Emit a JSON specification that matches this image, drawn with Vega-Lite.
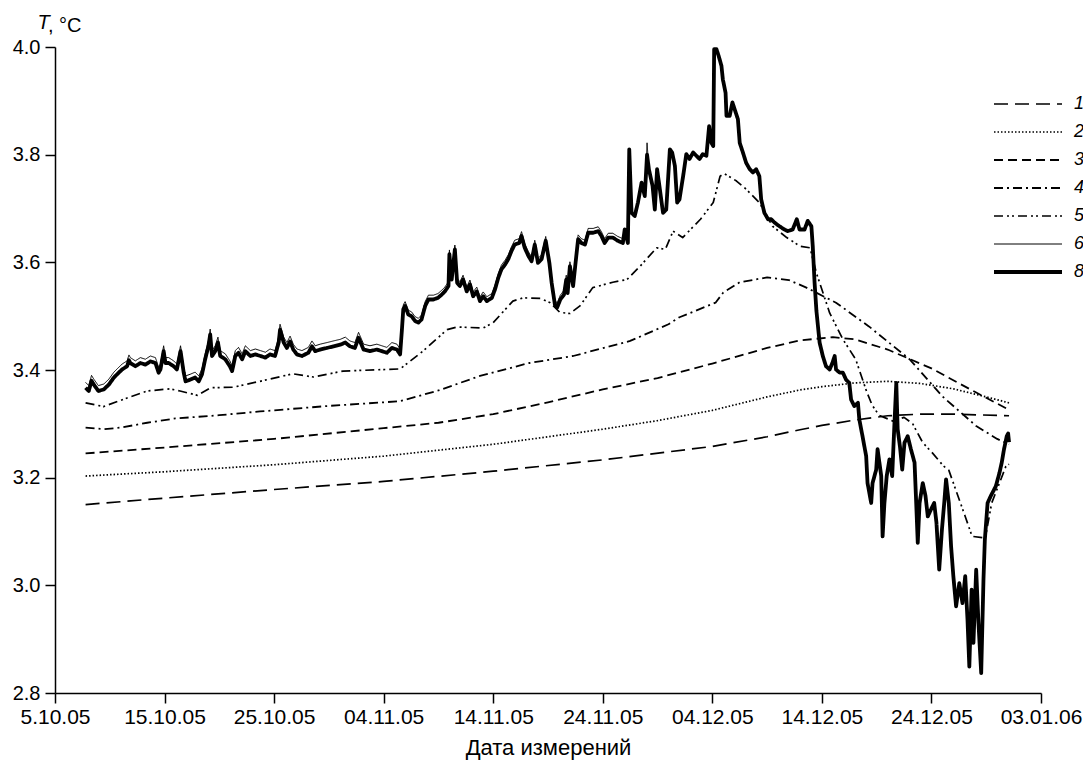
{
"$schema": "https://vega.github.io/schema/vega-lite/v6.json",
"width": 986, "height": 646,
"autosize": {"type": "none"},
"padding": {"left": 55, "top": 47, "right": 42, "bottom": 70},
"background": "white",
"config": {
  "view": {"stroke": null},
  "font": "Liberation Sans",
  "legend": {"orient": "none", "legendX": 937, "legendY": 43, "symbolType": "stroke", "symbolSize": 4624, "labelFontSize": 18, "labelFontStyle": "italic", "labelColor": "black", "labelFont": "Liberation Sans", "clipHeight": 28, "rowPadding": 0, "labelOffset": 10, "symbolStrokeColor": "black", "padding": 0}
},
"title": {"text": ", °C", "anchor": "start", "frame": "group", "fontSize": 20, "fontWeight": "normal", "color": "black", "font": "Liberation Sans", "dx": -7, "dy": 40, "offset": 0, "baseline": "alphabetic"},
"data": {
"format": {"parse": {"t": "utc:'%Y-%m-%d %H:%M'"}},
"values": [
{"t":"2005-10-07 19:00","s":"1","v":3.150},{"t":"2005-10-15 00:00","s":"1","v":3.162},{"t":"2005-10-25 00:00","s":"1","v":3.178},{"t":"2005-11-04 00:00","s":"1","v":3.193},{"t":"2005-11-14 00:00","s":"1","v":3.212},{"t":"2005-11-24 00:00","s":"1","v":3.233},{"t":"2005-12-04 00:00","s":"1","v":3.258},{"t":"2005-12-09 00:00","s":"1","v":3.276},{"t":"2005-12-12 00:00","s":"1","v":3.289},{"t":"2005-12-14 00:00","s":"1","v":3.297},{"t":"2005-12-17 00:00","s":"1","v":3.307},{"t":"2005-12-20 00:00","s":"1","v":3.315},{"t":"2005-12-23 00:00","s":"1","v":3.318},{"t":"2005-12-26 00:00","s":"1","v":3.318},{"t":"2005-12-31 02:00","s":"1","v":3.315},
{"t":"2005-10-07 19:00","s":"2","v":3.203},{"t":"2005-10-15 00:00","s":"2","v":3.211},{"t":"2005-10-25 00:00","s":"2","v":3.224},{"t":"2005-11-04 00:00","s":"2","v":3.240},{"t":"2005-11-14 00:00","s":"2","v":3.262},{"t":"2005-11-24 00:00","s":"2","v":3.290},{"t":"2005-11-29 00:00","s":"2","v":3.306},{"t":"2005-12-04 00:00","s":"2","v":3.325},{"t":"2005-12-09 00:00","s":"2","v":3.350},{"t":"2005-12-12 00:00","s":"2","v":3.363},{"t":"2005-12-14 00:00","s":"2","v":3.369},{"t":"2005-12-17 00:00","s":"2","v":3.376},{"t":"2005-12-20 00:00","s":"2","v":3.379},{"t":"2005-12-23 00:00","s":"2","v":3.375},{"t":"2005-12-26 00:00","s":"2","v":3.365},{"t":"2005-12-29 00:00","s":"2","v":3.350},{"t":"2005-12-31 02:00","s":"2","v":3.339},
{"t":"2005-10-07 19:00","s":"3","v":3.245},{"t":"2005-10-15 00:00","s":"3","v":3.256},{"t":"2005-10-25 00:00","s":"3","v":3.272},{"t":"2005-11-04 00:00","s":"3","v":3.292},{"t":"2005-11-09 00:00","s":"3","v":3.302},{"t":"2005-11-14 00:00","s":"3","v":3.318},{"t":"2005-11-19 00:00","s":"3","v":3.340},{"t":"2005-11-24 00:00","s":"3","v":3.364},{"t":"2005-11-29 00:00","s":"3","v":3.385},{"t":"2005-12-04 00:00","s":"3","v":3.412},{"t":"2005-12-09 00:00","s":"3","v":3.441},{"t":"2005-12-12 00:00","s":"3","v":3.455},{"t":"2005-12-15 00:00","s":"3","v":3.461},{"t":"2005-12-17 00:00","s":"3","v":3.457},{"t":"2005-12-20 00:00","s":"3","v":3.438},{"t":"2005-12-24 00:00","s":"3","v":3.403},{"t":"2005-12-28 00:00","s":"3","v":3.359},{"t":"2005-12-31 02:00","s":"3","v":3.326},
{"t":"2005-10-07 19:00","s":"4","v":3.293},{"t":"2005-10-09 12:00","s":"4","v":3.290},{"t":"2005-10-11 00:00","s":"4","v":3.293},{"t":"2005-10-13 10:00","s":"4","v":3.302},{"t":"2005-10-16 00:00","s":"4","v":3.310},{"t":"2005-10-20 00:00","s":"4","v":3.316},{"t":"2005-10-23 17:00","s":"4","v":3.323},{"t":"2005-10-29 19:00","s":"4","v":3.333},{"t":"2005-11-05 12:00","s":"4","v":3.342},{"t":"2005-11-09 00:00","s":"4","v":3.362},{"t":"2005-11-12 19:00","s":"4","v":3.389},{"t":"2005-11-17 07:00","s":"4","v":3.413},{"t":"2005-11-21 07:00","s":"4","v":3.426},{"t":"2005-11-26 12:00","s":"4","v":3.454},{"t":"2005-11-30 00:00","s":"4","v":3.485},{"t":"2005-12-01 00:00","s":"4","v":3.498},{"t":"2005-12-04 07:00","s":"4","v":3.525},{"t":"2005-12-05 00:00","s":"4","v":3.544},{"t":"2005-12-06 12:00","s":"4","v":3.563},{"t":"2005-12-09 00:00","s":"4","v":3.572},{"t":"2005-12-11 00:00","s":"4","v":3.567},{"t":"2005-12-12 14:00","s":"4","v":3.553},{"t":"2005-12-15 07:00","s":"4","v":3.525},{"t":"2005-12-18 07:00","s":"4","v":3.481},{"t":"2005-12-22 00:00","s":"4","v":3.420},{"t":"2005-12-25 00:00","s":"4","v":3.351},{"t":"2005-12-28 02:00","s":"4","v":3.296},{"t":"2005-12-30 00:00","s":"4","v":3.272},{"t":"2005-12-31 02:00","s":"4","v":3.262},
{"t":"2005-10-07 19:00","s":"5","v":3.339},{"t":"2005-10-09 10:00","s":"5","v":3.332},{"t":"2005-10-11 14:00","s":"5","v":3.348},{"t":"2005-10-13 10:00","s":"5","v":3.361},{"t":"2005-10-15 12:00","s":"5","v":3.365},{"t":"2005-10-16 10:00","s":"5","v":3.361},{"t":"2005-10-18 00:00","s":"5","v":3.353},{"t":"2005-10-19 05:00","s":"5","v":3.367},{"t":"2005-10-21 07:00","s":"5","v":3.368},{"t":"2005-10-23 17:00","s":"5","v":3.379},{"t":"2005-10-26 17:00","s":"5","v":3.393},{"t":"2005-10-28 14:00","s":"5","v":3.387},{"t":"2005-10-31 07:00","s":"5","v":3.398},{"t":"2005-11-05 12:00","s":"5","v":3.402},{"t":"2005-11-07 14:00","s":"5","v":3.435},{"t":"2005-11-09 19:00","s":"5","v":3.475},{"t":"2005-11-10 17:00","s":"5","v":3.480},{"t":"2005-11-13 02:00","s":"5","v":3.478},{"t":"2005-11-14 00:00","s":"5","v":3.488},{"t":"2005-11-15 19:00","s":"5","v":3.528},{"t":"2005-11-16 17:00","s":"5","v":3.534},{"t":"2005-11-18 07:00","s":"5","v":3.533},{"t":"2005-11-19 05:00","s":"5","v":3.525},{"t":"2005-11-20 02:00","s":"5","v":3.507},{"t":"2005-11-21 00:00","s":"5","v":3.505},{"t":"2005-11-21 22:00","s":"5","v":3.519},{"t":"2005-11-23 02:00","s":"5","v":3.553},{"t":"2005-11-24 22:00","s":"5","v":3.563},{"t":"2005-11-26 05:00","s":"5","v":3.568},{"t":"2005-11-27 10:00","s":"5","v":3.593},{"t":"2005-11-28 22:00","s":"5","v":3.627},{"t":"2005-11-29 17:00","s":"5","v":3.624},{"t":"2005-11-30 10:00","s":"5","v":3.658},{"t":"2005-12-01 07:00","s":"5","v":3.646},{"t":"2005-12-02 22:00","s":"5","v":3.680},{"t":"2005-12-04 02:00","s":"5","v":3.711},{"t":"2005-12-04 17:00","s":"5","v":3.760},{"t":"2005-12-05 02:00","s":"5","v":3.765},{"t":"2005-12-06 05:00","s":"5","v":3.751},{"t":"2005-12-07 02:00","s":"5","v":3.736},{"t":"2005-12-08 07:00","s":"5","v":3.711},{"t":"2005-12-09 12:00","s":"5","v":3.667},{"t":"2005-12-10 19:00","s":"5","v":3.646},{"t":"2005-12-12 00:00","s":"5","v":3.630},{"t":"2005-12-12 22:00","s":"5","v":3.627},{"t":"2005-12-13 12:00","s":"5","v":3.580},{"t":"2005-12-14 17:00","s":"5","v":3.506},{"t":"2005-12-15 22:00","s":"5","v":3.457},{"t":"2005-12-17 02:00","s":"5","v":3.420},{"t":"2005-12-18 02:00","s":"5","v":3.360},{"t":"2005-12-18 14:00","s":"5","v":3.335},{"t":"2005-12-19 05:00","s":"5","v":3.316},{"t":"2005-12-20 12:00","s":"5","v":3.305},{"t":"2005-12-21 12:00","s":"5","v":3.312},{"t":"2005-12-22 07:00","s":"5","v":3.300},{"t":"2005-12-23 05:00","s":"5","v":3.265},{"t":"2005-12-24 02:00","s":"5","v":3.246},{"t":"2005-12-25 02:00","s":"5","v":3.222},{"t":"2005-12-25 14:00","s":"5","v":3.214},{"t":"2005-12-26 05:00","s":"5","v":3.178},{"t":"2005-12-27 02:00","s":"5","v":3.128},{"t":"2005-12-27 17:00","s":"5","v":3.091},{"t":"2005-12-28 22:00","s":"5","v":3.088},{"t":"2005-12-29 12:00","s":"5","v":3.153},{"t":"2005-12-30 05:00","s":"5","v":3.190},{"t":"2005-12-30 19:00","s":"5","v":3.221},{"t":"2005-12-31 02:00","s":"5","v":3.225},
{"t":"2005-10-07 19:00","s":"6","v":3.377},{"t":"2005-10-08 02:00","s":"6","v":3.371},{"t":"2005-10-08 08:00","s":"6","v":3.390},{"t":"2005-10-08 13:00","s":"6","v":3.383},{"t":"2005-10-08 23:00","s":"6","v":3.371},{"t":"2005-10-09 11:00","s":"6","v":3.374},{"t":"2005-10-09 22:00","s":"6","v":3.383},{"t":"2005-10-10 09:00","s":"6","v":3.396},{"t":"2005-10-10 16:00","s":"6","v":3.402},{"t":"2005-10-11 03:00","s":"6","v":3.411},{"t":"2005-10-11 14:00","s":"6","v":3.417},{"t":"2005-10-11 18:00","s":"6","v":3.428},{"t":"2005-10-11 21:00","s":"6","v":3.423},{"t":"2005-10-12 08:00","s":"6","v":3.417},{"t":"2005-10-12 19:00","s":"6","v":3.423},{"t":"2005-10-13 06:00","s":"6","v":3.420},{"t":"2005-10-13 17:00","s":"6","v":3.426},{"t":"2005-10-14 04:00","s":"6","v":3.423},{"t":"2005-10-14 11:00","s":"6","v":3.405},{"t":"2005-10-14 15:00","s":"6","v":3.411},{"t":"2005-10-14 22:00","s":"6","v":3.445},{"t":"2005-10-15 02:00","s":"6","v":3.423},{"t":"2005-10-15 09:00","s":"6","v":3.423},{"t":"2005-10-15 20:00","s":"6","v":3.417},{"t":"2005-10-16 03:00","s":"6","v":3.411},{"t":"2005-10-16 11:00","s":"6","v":3.445},{"t":"2005-10-16 18:00","s":"6","v":3.405},{"t":"2005-10-16 22:00","s":"6","v":3.389},{"t":"2005-10-17 08:00","s":"6","v":3.392},{"t":"2005-10-17 19:00","s":"6","v":3.396},{"t":"2005-10-18 03:00","s":"6","v":3.389},{"t":"2005-10-18 10:00","s":"6","v":3.402},{"t":"2005-10-18 17:00","s":"6","v":3.430},{"t":"2005-10-19 00:00","s":"6","v":3.454},{"t":"2005-10-19 04:00","s":"6","v":3.476},{"t":"2005-10-19 08:00","s":"6","v":3.436},{"t":"2005-10-19 15:00","s":"6","v":3.445},{"t":"2005-10-19 21:00","s":"6","v":3.461},{"t":"2005-10-20 02:00","s":"6","v":3.436},{"t":"2005-10-20 13:00","s":"6","v":3.430},{"t":"2005-10-20 23:00","s":"6","v":3.417},{"t":"2005-10-21 04:00","s":"6","v":3.408},{"t":"2005-10-21 11:00","s":"6","v":3.436},{"t":"2005-10-21 18:00","s":"6","v":3.442},{"t":"2005-10-22 02:00","s":"6","v":3.430},{"t":"2005-10-22 09:00","s":"6","v":3.445},{"t":"2005-10-22 20:00","s":"6","v":3.436},{"t":"2005-10-23 07:00","s":"6","v":3.439},{"t":"2005-10-23 18:00","s":"6","v":3.436},{"t":"2005-10-24 05:00","s":"6","v":3.433},{"t":"2005-10-24 15:00","s":"6","v":3.439},{"t":"2005-10-25 02:00","s":"6","v":3.436},{"t":"2005-10-25 10:00","s":"6","v":3.461},{"t":"2005-10-25 13:00","s":"6","v":3.485},{"t":"2005-10-25 21:00","s":"6","v":3.461},{"t":"2005-10-26 04:00","s":"6","v":3.451},{"t":"2005-10-26 11:00","s":"6","v":3.463},{"t":"2005-10-26 18:00","s":"6","v":3.448},{"t":"2005-10-27 02:00","s":"6","v":3.439},{"t":"2005-10-27 13:00","s":"6","v":3.436},{"t":"2005-10-28 03:00","s":"6","v":3.442},{"t":"2005-10-28 11:00","s":"6","v":3.454},{"t":"2005-10-28 18:00","s":"6","v":3.445},{"t":"2005-10-29 05:00","s":"6","v":3.448},{"t":"2005-10-29 20:00","s":"6","v":3.451},{"t":"2005-10-30 10:00","s":"6","v":3.454},{"t":"2005-10-31 01:00","s":"6","v":3.457},{"t":"2005-10-31 12:00","s":"6","v":3.461},{"t":"2005-10-31 22:00","s":"6","v":3.454},{"t":"2005-11-01 09:00","s":"6","v":3.451},{"t":"2005-11-01 17:00","s":"6","v":3.470},{"t":"2005-11-02 04:00","s":"6","v":3.448},{"t":"2005-11-02 18:00","s":"6","v":3.445},{"t":"2005-11-03 09:00","s":"6","v":3.448},{"t":"2005-11-03 20:00","s":"6","v":3.445},{"t":"2005-11-04 07:00","s":"6","v":3.442},{"t":"2005-11-04 18:00","s":"6","v":3.451},{"t":"2005-11-05 05:00","s":"6","v":3.448},{"t":"2005-11-05 12:00","s":"6","v":3.439},{"t":"2005-11-05 16:00","s":"6","v":3.483},{"t":"2005-11-05 19:00","s":"6","v":3.521},{"t":"2005-11-05 23:00","s":"6","v":3.527},{"t":"2005-11-06 06:00","s":"6","v":3.511},{"t":"2005-11-06 13:00","s":"6","v":3.508},{"t":"2005-11-06 21:00","s":"6","v":3.499},{"t":"2005-11-07 04:00","s":"6","v":3.496},{"t":"2005-11-07 11:00","s":"6","v":3.502},{"t":"2005-11-07 19:00","s":"6","v":3.527},{"t":"2005-11-08 02:00","s":"6","v":3.539},{"t":"2005-11-08 13:00","s":"6","v":3.539},{"t":"2005-11-08 23:00","s":"6","v":3.542},{"t":"2005-11-09 07:00","s":"6","v":3.548},{"t":"2005-11-09 14:00","s":"6","v":3.554},{"t":"2005-11-09 22:00","s":"6","v":3.564},{"t":"2005-11-10 00:00","s":"6","v":3.623},{"t":"2005-11-10 05:00","s":"6","v":3.576},{"t":"2005-11-10 12:00","s":"6","v":3.632},{"t":"2005-11-10 17:00","s":"6","v":3.570},{"t":"2005-11-10 23:00","s":"6","v":3.564},{"t":"2005-11-11 06:00","s":"6","v":3.576},{"t":"2005-11-11 14:00","s":"6","v":3.554},{"t":"2005-11-11 21:00","s":"6","v":3.567},{"t":"2005-11-12 04:00","s":"6","v":3.545},{"t":"2005-11-12 12:00","s":"6","v":3.554},{"t":"2005-11-12 19:00","s":"6","v":3.536},{"t":"2005-11-13 02:00","s":"6","v":3.545},{"t":"2005-11-13 10:00","s":"6","v":3.536},{"t":"2005-11-13 21:00","s":"6","v":3.542},{"t":"2005-11-14 04:00","s":"6","v":3.558},{"t":"2005-11-14 11:00","s":"6","v":3.579},{"t":"2005-11-14 18:00","s":"6","v":3.595},{"t":"2005-11-15 02:00","s":"6","v":3.604},{"t":"2005-11-15 09:00","s":"6","v":3.614},{"t":"2005-11-15 16:00","s":"6","v":3.629},{"t":"2005-11-15 23:00","s":"6","v":3.641},{"t":"2005-11-16 09:00","s":"6","v":3.644},{"t":"2005-11-16 14:00","s":"6","v":3.657},{"t":"2005-11-16 21:00","s":"6","v":3.635},{"t":"2005-11-17 05:00","s":"6","v":3.620},{"t":"2005-11-17 12:00","s":"6","v":3.610},{"t":"2005-11-17 19:00","s":"6","v":3.641},{"t":"2005-11-18 02:00","s":"6","v":3.607},{"t":"2005-11-18 10:00","s":"6","v":3.614},{"t":"2005-11-18 19:00","s":"6","v":3.648},{"t":"2005-11-19 03:00","s":"6","v":3.607},{"t":"2005-11-19 08:00","s":"6","v":3.570},{"t":"2005-11-19 15:00","s":"6","v":3.530},{"t":"2005-11-19 20:00","s":"6","v":3.524},{"t":"2005-11-20 03:00","s":"6","v":3.539},{"t":"2005-11-20 11:00","s":"6","v":3.548},{"t":"2005-11-20 16:00","s":"6","v":3.576},{"t":"2005-11-20 19:00","s":"6","v":3.551},{"t":"2005-11-21 00:00","s":"6","v":3.601},{"t":"2005-11-21 07:00","s":"6","v":3.564},{"t":"2005-11-21 14:00","s":"6","v":3.620},{"t":"2005-11-21 18:00","s":"6","v":3.651},{"t":"2005-11-22 01:00","s":"6","v":3.644},{"t":"2005-11-22 09:00","s":"6","v":3.641},{"t":"2005-11-22 16:00","s":"6","v":3.663},{"t":"2005-11-23 03:00","s":"6","v":3.663},{"t":"2005-11-23 14:00","s":"6","v":3.666},{"t":"2005-11-23 21:00","s":"6","v":3.657},{"t":"2005-11-24 04:00","s":"6","v":3.644},{"t":"2005-11-24 12:00","s":"6","v":3.654},{"t":"2005-11-24 22:00","s":"6","v":3.654},{"t":"2005-11-25 09:00","s":"6","v":3.648},{"t":"2005-11-25 20:00","s":"6","v":3.644},
{"t":"2005-11-26 00:00","s":"6","v":3.661},{"t":"2005-11-26 07:00","s":"6","v":3.636},{"t":"2005-11-26 10:00","s":"6","v":3.810},{"t":"2005-11-26 15:00","s":"6","v":3.692},{"t":"2005-11-26 22:00","s":"6","v":3.686},{"t":"2005-11-27 05:00","s":"6","v":3.711},{"t":"2005-11-27 13:00","s":"6","v":3.748},{"t":"2005-11-27 20:00","s":"6","v":3.723},{"t":"2005-11-28 01:00","s":"6","v":3.822},{"t":"2005-11-28 05:00","s":"6","v":3.773},{"t":"2005-11-28 13:00","s":"6","v":3.742},{"t":"2005-11-28 18:00","s":"6","v":3.698},{"t":"2005-11-28 23:00","s":"6","v":3.773},{"t":"2005-11-29 05:00","s":"6","v":3.736},{"t":"2005-11-29 12:00","s":"6","v":3.692},{"t":"2005-11-29 19:00","s":"6","v":3.698},{"t":"2005-11-30 03:00","s":"6","v":3.810},{"t":"2005-11-30 08:00","s":"6","v":3.804},{"t":"2005-11-30 14:00","s":"6","v":3.779},{"t":"2005-11-30 19:00","s":"6","v":3.711},{"t":"2005-12-01 00:00","s":"6","v":3.717},{"t":"2005-12-01 08:00","s":"6","v":3.760},{"t":"2005-12-01 15:00","s":"6","v":3.801},{"t":"2005-12-01 22:00","s":"6","v":3.792},{"t":"2005-12-02 06:00","s":"6","v":3.804},{"t":"2005-12-02 13:00","s":"6","v":3.798},{"t":"2005-12-02 20:00","s":"6","v":3.792},{"t":"2005-12-03 03:00","s":"6","v":3.801},{"t":"2005-12-03 11:00","s":"6","v":3.798},{"t":"2005-12-03 17:00","s":"6","v":3.853},{"t":"2005-12-03 22:00","s":"6","v":3.822},{"t":"2005-12-04 02:00","s":"6","v":3.816},{"t":"2005-12-04 04:00","s":"6","v":3.996},{"t":"2005-12-04 09:00","s":"6","v":3.996},{"t":"2005-12-04 14:00","s":"6","v":3.983},{"t":"2005-12-04 20:00","s":"6","v":3.965},{"t":"2005-12-04 23:00","s":"6","v":3.940},{"t":"2005-12-05 05:00","s":"6","v":3.915},{"t":"2005-12-05 07:00","s":"6","v":3.872},{"t":"2005-12-05 14:00","s":"6","v":3.872},{"t":"2005-12-05 20:00","s":"6","v":3.897},{"t":"2005-12-06 01:00","s":"6","v":3.884},{"t":"2005-12-06 08:00","s":"6","v":3.866},{"t":"2005-12-06 12:00","s":"6","v":3.822},{"t":"2005-12-06 19:00","s":"6","v":3.804},{"t":"2005-12-07 02:00","s":"6","v":3.785},{"t":"2005-12-07 10:00","s":"6","v":3.773},{"t":"2005-12-07 17:00","s":"6","v":3.767},{"t":"2005-12-08 00:00","s":"6","v":3.773},{"t":"2005-12-08 07:00","s":"6","v":3.760},{"t":"2005-12-08 11:00","s":"6","v":3.717},{"t":"2005-12-08 18:00","s":"6","v":3.692},{"t":"2005-12-09 02:00","s":"6","v":3.680},{"t":"2005-12-09 09:00","s":"6","v":3.680},{"t":"2005-12-09 16:00","s":"6","v":3.674},{"t":"2005-12-10 03:00","s":"6","v":3.667},{"t":"2005-12-10 14:00","s":"6","v":3.661},{"t":"2005-12-10 21:00","s":"6","v":3.658},{"t":"2005-12-11 08:00","s":"6","v":3.661},{"t":"2005-12-11 17:00","s":"6","v":3.680},{"t":"2005-12-11 23:00","s":"6","v":3.661},{"t":"2005-12-12 10:00","s":"6","v":3.661},{"t":"2005-12-12 17:00","s":"6","v":3.677},{"t":"2005-12-13 01:00","s":"6","v":3.667},{"t":"2005-12-13 04:00","s":"6","v":3.630},{"t":"2005-12-13 08:00","s":"6","v":3.562},{"t":"2005-12-13 12:00","s":"6","v":3.510},{"t":"2005-12-13 19:00","s":"6","v":3.451},{"t":"2005-12-14 02:00","s":"6","v":3.426},{"t":"2005-12-14 09:00","s":"6","v":3.407},{"t":"2005-12-14 17:00","s":"6","v":3.401},{"t":"2005-12-14 23:00","s":"6","v":3.413},{"t":"2005-12-15 04:00","s":"6","v":3.426},{"t":"2005-12-15 07:00","s":"6","v":3.401},{"t":"2005-12-15 15:00","s":"6","v":3.395},{"t":"2005-12-15 22:00","s":"6","v":3.395},{"t":"2005-12-16 05:00","s":"6","v":3.382},{"t":"2005-12-16 12:00","s":"6","v":3.376},{"t":"2005-12-16 16:00","s":"6","v":3.345},{"t":"2005-12-16 23:00","s":"6","v":3.333},{"t":"2005-12-17 07:00","s":"6","v":3.339},{"t":"2005-12-17 10:00","s":"6","v":3.308},{"t":"2005-12-17 17:00","s":"6","v":3.277},{"t":"2005-12-18 01:00","s":"6","v":3.240},{"t":"2005-12-18 04:00","s":"6","v":3.190},{"t":"2005-12-18 12:00","s":"6","v":3.153},{"t":"2005-12-18 15:00","s":"6","v":3.190},{"t":"2005-12-18 23:00","s":"6","v":3.215},{"t":"2005-12-19 02:00","s":"6","v":3.253},{"t":"2005-12-19 06:00","s":"6","v":3.228},{"t":"2005-12-19 10:00","s":"6","v":3.203},{"t":"2005-12-19 13:00","s":"6","v":3.091},{"t":"2005-12-19 17:00","s":"6","v":3.153},{"t":"2005-12-19 22:00","s":"6","v":3.203},{"t":"2005-12-20 04:00","s":"6","v":3.234},{"t":"2005-12-20 10:00","s":"6","v":3.203},{"t":"2005-12-20 15:00","s":"6","v":3.302},{"t":"2005-12-20 19:00","s":"6","v":3.376},{"t":"2005-12-20 22:00","s":"6","v":3.290},{"t":"2005-12-21 03:00","s":"6","v":3.258},{"t":"2005-12-21 08:00","s":"6","v":3.215},{"t":"2005-12-21 13:00","s":"6","v":3.265},{"t":"2005-12-21 20:00","s":"6","v":3.277},{"t":"2005-12-22 03:00","s":"6","v":3.253},{"t":"2005-12-22 11:00","s":"6","v":3.228},{"t":"2005-12-22 14:00","s":"6","v":3.166},{"t":"2005-12-22 18:00","s":"6","v":3.079},{"t":"2005-12-22 22:00","s":"6","v":3.153},{"t":"2005-12-23 05:00","s":"6","v":3.190},{"t":"2005-12-23 11:00","s":"6","v":3.166},{"t":"2005-12-23 16:00","s":"6","v":3.128},{"t":"2005-12-23 23:00","s":"6","v":3.141},{"t":"2005-12-24 06:00","s":"6","v":3.153},{"t":"2005-12-24 11:00","s":"6","v":3.116},{"t":"2005-12-24 17:00","s":"6","v":3.029},{"t":"2005-12-24 23:00","s":"6","v":3.104},{"t":"2005-12-25 04:00","s":"6","v":3.153},{"t":"2005-12-25 08:00","s":"6","v":3.197},{"t":"2005-12-25 14:00","s":"6","v":3.153},{"t":"2005-12-25 19:00","s":"6","v":3.073},{"t":"2005-12-26 00:00","s":"6","v":3.017},{"t":"2005-12-26 06:00","s":"6","v":2.961},{"t":"2005-12-26 13:00","s":"6","v":3.004},{"t":"2005-12-26 20:00","s":"6","v":2.967},{"t":"2005-12-27 02:00","s":"6","v":3.017},{"t":"2005-12-27 07:00","s":"6","v":2.936},{"t":"2005-12-27 11:00","s":"6","v":2.849},{"t":"2005-12-27 16:00","s":"6","v":2.992},{"t":"2005-12-27 20:00","s":"6","v":2.893},{"t":"2005-12-28 02:00","s":"6","v":3.029},{"t":"2005-12-28 07:00","s":"6","v":2.930},{"t":"2005-12-28 13:00","s":"6","v":2.837},{"t":"2005-12-28 18:00","s":"6","v":3.011},{"t":"2005-12-28 21:00","s":"6","v":3.085},{"t":"2005-12-29 03:00","s":"6","v":3.153},{"t":"2005-12-29 10:00","s":"6","v":3.166},{"t":"2005-12-29 21:00","s":"6","v":3.184},{"t":"2005-12-30 05:00","s":"6","v":3.209},{"t":"2005-12-30 10:00","s":"6","v":3.228},{"t":"2005-12-30 15:00","s":"6","v":3.253},{"t":"2005-12-30 21:00","s":"6","v":3.277},{"t":"2005-12-31 00:00","s":"6","v":3.282},{"t":"2005-12-31 02:00","s":"6","v":3.266},
{"t":"2005-10-07 19:00","s":"8","v":3.367},{"t":"2005-10-08 02:00","s":"8","v":3.361},{"t":"2005-10-08 08:00","s":"8","v":3.380},{"t":"2005-10-08 13:00","s":"8","v":3.373},{"t":"2005-10-08 23:00","s":"8","v":3.361},{"t":"2005-10-09 11:00","s":"8","v":3.364},{"t":"2005-10-09 22:00","s":"8","v":3.373},{"t":"2005-10-10 09:00","s":"8","v":3.386},{"t":"2005-10-10 16:00","s":"8","v":3.392},{"t":"2005-10-11 03:00","s":"8","v":3.401},{"t":"2005-10-11 14:00","s":"8","v":3.407},{"t":"2005-10-11 18:00","s":"8","v":3.418},{"t":"2005-10-11 21:00","s":"8","v":3.413},{"t":"2005-10-12 08:00","s":"8","v":3.407},{"t":"2005-10-12 19:00","s":"8","v":3.413},{"t":"2005-10-13 06:00","s":"8","v":3.410},{"t":"2005-10-13 17:00","s":"8","v":3.416},{"t":"2005-10-14 04:00","s":"8","v":3.413},{"t":"2005-10-14 11:00","s":"8","v":3.395},{"t":"2005-10-14 15:00","s":"8","v":3.401},{"t":"2005-10-14 22:00","s":"8","v":3.435},{"t":"2005-10-15 02:00","s":"8","v":3.413},{"t":"2005-10-15 09:00","s":"8","v":3.413},{"t":"2005-10-15 20:00","s":"8","v":3.407},{"t":"2005-10-16 03:00","s":"8","v":3.401},{"t":"2005-10-16 11:00","s":"8","v":3.435},{"t":"2005-10-16 18:00","s":"8","v":3.395},{"t":"2005-10-16 22:00","s":"8","v":3.379},{"t":"2005-10-17 08:00","s":"8","v":3.382},{"t":"2005-10-17 19:00","s":"8","v":3.386},{"t":"2005-10-18 03:00","s":"8","v":3.379},{"t":"2005-10-18 10:00","s":"8","v":3.392},{"t":"2005-10-18 17:00","s":"8","v":3.420},{"t":"2005-10-19 00:00","s":"8","v":3.444},{"t":"2005-10-19 04:00","s":"8","v":3.466},{"t":"2005-10-19 08:00","s":"8","v":3.426},{"t":"2005-10-19 15:00","s":"8","v":3.435},{"t":"2005-10-19 21:00","s":"8","v":3.451},{"t":"2005-10-20 02:00","s":"8","v":3.426},{"t":"2005-10-20 13:00","s":"8","v":3.420},{"t":"2005-10-20 23:00","s":"8","v":3.407},{"t":"2005-10-21 04:00","s":"8","v":3.398},{"t":"2005-10-21 11:00","s":"8","v":3.426},{"t":"2005-10-21 18:00","s":"8","v":3.432},{"t":"2005-10-22 02:00","s":"8","v":3.420},{"t":"2005-10-22 09:00","s":"8","v":3.435},{"t":"2005-10-22 20:00","s":"8","v":3.426},{"t":"2005-10-23 07:00","s":"8","v":3.429},{"t":"2005-10-23 18:00","s":"8","v":3.426},{"t":"2005-10-24 05:00","s":"8","v":3.423},{"t":"2005-10-24 15:00","s":"8","v":3.429},{"t":"2005-10-25 02:00","s":"8","v":3.426},{"t":"2005-10-25 10:00","s":"8","v":3.451},{"t":"2005-10-25 13:00","s":"8","v":3.475},{"t":"2005-10-25 21:00","s":"8","v":3.451},{"t":"2005-10-26 04:00","s":"8","v":3.441},{"t":"2005-10-26 11:00","s":"8","v":3.453},{"t":"2005-10-26 18:00","s":"8","v":3.438},{"t":"2005-10-27 02:00","s":"8","v":3.429},{"t":"2005-10-27 13:00","s":"8","v":3.426},{"t":"2005-10-28 03:00","s":"8","v":3.432},{"t":"2005-10-28 11:00","s":"8","v":3.444},{"t":"2005-10-28 18:00","s":"8","v":3.435},{"t":"2005-10-29 05:00","s":"8","v":3.438},{"t":"2005-10-29 20:00","s":"8","v":3.441},{"t":"2005-10-30 10:00","s":"8","v":3.444},{"t":"2005-10-31 01:00","s":"8","v":3.447},{"t":"2005-10-31 12:00","s":"8","v":3.451},{"t":"2005-10-31 22:00","s":"8","v":3.444},{"t":"2005-11-01 09:00","s":"8","v":3.441},{"t":"2005-11-01 17:00","s":"8","v":3.460},{"t":"2005-11-02 04:00","s":"8","v":3.438},{"t":"2005-11-02 18:00","s":"8","v":3.435},{"t":"2005-11-03 09:00","s":"8","v":3.438},{"t":"2005-11-03 20:00","s":"8","v":3.435},{"t":"2005-11-04 07:00","s":"8","v":3.432},{"t":"2005-11-04 18:00","s":"8","v":3.441},{"t":"2005-11-05 05:00","s":"8","v":3.438},{"t":"2005-11-05 12:00","s":"8","v":3.429},{"t":"2005-11-05 16:00","s":"8","v":3.475},{"t":"2005-11-05 19:00","s":"8","v":3.513},{"t":"2005-11-05 23:00","s":"8","v":3.519},{"t":"2005-11-06 06:00","s":"8","v":3.503},{"t":"2005-11-06 13:00","s":"8","v":3.500},{"t":"2005-11-06 21:00","s":"8","v":3.491},{"t":"2005-11-07 04:00","s":"8","v":3.488},{"t":"2005-11-07 11:00","s":"8","v":3.494},{"t":"2005-11-07 19:00","s":"8","v":3.519},{"t":"2005-11-08 02:00","s":"8","v":3.531},{"t":"2005-11-08 13:00","s":"8","v":3.531},{"t":"2005-11-08 23:00","s":"8","v":3.534},{"t":"2005-11-09 07:00","s":"8","v":3.540},{"t":"2005-11-09 14:00","s":"8","v":3.546},{"t":"2005-11-09 22:00","s":"8","v":3.556},{"t":"2005-11-10 00:00","s":"8","v":3.615},{"t":"2005-11-10 05:00","s":"8","v":3.568},{"t":"2005-11-10 12:00","s":"8","v":3.624},{"t":"2005-11-10 17:00","s":"8","v":3.562},{"t":"2005-11-10 23:00","s":"8","v":3.556},{"t":"2005-11-11 06:00","s":"8","v":3.568},{"t":"2005-11-11 14:00","s":"8","v":3.546},{"t":"2005-11-11 21:00","s":"8","v":3.559},{"t":"2005-11-12 04:00","s":"8","v":3.537},{"t":"2005-11-12 12:00","s":"8","v":3.546},{"t":"2005-11-12 19:00","s":"8","v":3.528},{"t":"2005-11-13 02:00","s":"8","v":3.537},{"t":"2005-11-13 10:00","s":"8","v":3.528},{"t":"2005-11-13 21:00","s":"8","v":3.534},{"t":"2005-11-14 04:00","s":"8","v":3.550},{"t":"2005-11-14 11:00","s":"8","v":3.571},{"t":"2005-11-14 18:00","s":"8","v":3.587},{"t":"2005-11-15 02:00","s":"8","v":3.596},{"t":"2005-11-15 09:00","s":"8","v":3.606},{"t":"2005-11-15 16:00","s":"8","v":3.621},{"t":"2005-11-15 23:00","s":"8","v":3.633},{"t":"2005-11-16 09:00","s":"8","v":3.636},{"t":"2005-11-16 14:00","s":"8","v":3.649},{"t":"2005-11-16 21:00","s":"8","v":3.627},{"t":"2005-11-17 05:00","s":"8","v":3.612},{"t":"2005-11-17 12:00","s":"8","v":3.602},{"t":"2005-11-17 19:00","s":"8","v":3.633},{"t":"2005-11-18 02:00","s":"8","v":3.599},{"t":"2005-11-18 10:00","s":"8","v":3.606},{"t":"2005-11-18 19:00","s":"8","v":3.640},{"t":"2005-11-19 03:00","s":"8","v":3.599},{"t":"2005-11-19 08:00","s":"8","v":3.562},{"t":"2005-11-19 15:00","s":"8","v":3.522},{"t":"2005-11-19 20:00","s":"8","v":3.516},{"t":"2005-11-20 03:00","s":"8","v":3.531},{"t":"2005-11-20 11:00","s":"8","v":3.540},{"t":"2005-11-20 16:00","s":"8","v":3.568},{"t":"2005-11-20 19:00","s":"8","v":3.543},{"t":"2005-11-21 00:00","s":"8","v":3.593},{"t":"2005-11-21 07:00","s":"8","v":3.556},{"t":"2005-11-21 14:00","s":"8","v":3.612},{"t":"2005-11-21 18:00","s":"8","v":3.643},{"t":"2005-11-22 01:00","s":"8","v":3.636},{"t":"2005-11-22 09:00","s":"8","v":3.633},{"t":"2005-11-22 16:00","s":"8","v":3.655},{"t":"2005-11-23 03:00","s":"8","v":3.655},{"t":"2005-11-23 14:00","s":"8","v":3.658},{"t":"2005-11-23 21:00","s":"8","v":3.649},{"t":"2005-11-24 04:00","s":"8","v":3.636},{"t":"2005-11-24 12:00","s":"8","v":3.646},{"t":"2005-11-24 22:00","s":"8","v":3.646},{"t":"2005-11-25 09:00","s":"8","v":3.640},{"t":"2005-11-25 20:00","s":"8","v":3.636},{"t":"2005-11-26 00:00","s":"8","v":3.661},{"t":"2005-11-26 07:00","s":"8","v":3.636},{"t":"2005-11-26 10:00","s":"8","v":3.810},{"t":"2005-11-26 15:00","s":"8","v":3.692},{"t":"2005-11-26 22:00","s":"8","v":3.686},{"t":"2005-11-27 05:00","s":"8","v":3.711},{"t":"2005-11-27 13:00","s":"8","v":3.748},{"t":"2005-11-27 20:00","s":"8","v":3.723},{"t":"2005-11-28 01:00","s":"8","v":3.800},{"t":"2005-11-28 05:00","s":"8","v":3.773},{"t":"2005-11-28 13:00","s":"8","v":3.742},{"t":"2005-11-28 18:00","s":"8","v":3.698},{"t":"2005-11-28 23:00","s":"8","v":3.773},{"t":"2005-11-29 05:00","s":"8","v":3.736},{"t":"2005-11-29 12:00","s":"8","v":3.692},{"t":"2005-11-29 19:00","s":"8","v":3.698},{"t":"2005-11-30 03:00","s":"8","v":3.810},{"t":"2005-11-30 08:00","s":"8","v":3.804},{"t":"2005-11-30 14:00","s":"8","v":3.779},{"t":"2005-11-30 19:00","s":"8","v":3.711},{"t":"2005-12-01 00:00","s":"8","v":3.717},{"t":"2005-12-01 08:00","s":"8","v":3.760},{"t":"2005-12-01 15:00","s":"8","v":3.801},{"t":"2005-12-01 22:00","s":"8","v":3.792},{"t":"2005-12-02 06:00","s":"8","v":3.804},{"t":"2005-12-02 13:00","s":"8","v":3.798},{"t":"2005-12-02 20:00","s":"8","v":3.792},{"t":"2005-12-03 03:00","s":"8","v":3.801},{"t":"2005-12-03 11:00","s":"8","v":3.798},{"t":"2005-12-03 17:00","s":"8","v":3.853},{"t":"2005-12-03 22:00","s":"8","v":3.822},{"t":"2005-12-04 02:00","s":"8","v":3.816},{"t":"2005-12-04 04:00","s":"8","v":3.996},{"t":"2005-12-04 09:00","s":"8","v":3.996},{"t":"2005-12-04 14:00","s":"8","v":3.983},{"t":"2005-12-04 20:00","s":"8","v":3.965},{"t":"2005-12-04 23:00","s":"8","v":3.940},{"t":"2005-12-05 05:00","s":"8","v":3.915},{"t":"2005-12-05 07:00","s":"8","v":3.872},{"t":"2005-12-05 14:00","s":"8","v":3.872},{"t":"2005-12-05 20:00","s":"8","v":3.897},{"t":"2005-12-06 01:00","s":"8","v":3.884},{"t":"2005-12-06 08:00","s":"8","v":3.866},{"t":"2005-12-06 12:00","s":"8","v":3.822},{"t":"2005-12-06 19:00","s":"8","v":3.804},{"t":"2005-12-07 02:00","s":"8","v":3.785},{"t":"2005-12-07 10:00","s":"8","v":3.773},{"t":"2005-12-07 17:00","s":"8","v":3.767},{"t":"2005-12-08 00:00","s":"8","v":3.773},{"t":"2005-12-08 07:00","s":"8","v":3.760},{"t":"2005-12-08 11:00","s":"8","v":3.717},{"t":"2005-12-08 18:00","s":"8","v":3.692},{"t":"2005-12-09 02:00","s":"8","v":3.680},{"t":"2005-12-09 09:00","s":"8","v":3.680},{"t":"2005-12-09 16:00","s":"8","v":3.674},{"t":"2005-12-10 03:00","s":"8","v":3.667},{"t":"2005-12-10 14:00","s":"8","v":3.661},{"t":"2005-12-10 21:00","s":"8","v":3.658},{"t":"2005-12-11 08:00","s":"8","v":3.661},{"t":"2005-12-11 17:00","s":"8","v":3.680},{"t":"2005-12-11 23:00","s":"8","v":3.661},{"t":"2005-12-12 10:00","s":"8","v":3.661},{"t":"2005-12-12 17:00","s":"8","v":3.677},{"t":"2005-12-13 01:00","s":"8","v":3.667},{"t":"2005-12-13 04:00","s":"8","v":3.630},{"t":"2005-12-13 08:00","s":"8","v":3.562},{"t":"2005-12-13 12:00","s":"8","v":3.510},{"t":"2005-12-13 19:00","s":"8","v":3.451},{"t":"2005-12-14 02:00","s":"8","v":3.426},{"t":"2005-12-14 09:00","s":"8","v":3.407},{"t":"2005-12-14 17:00","s":"8","v":3.401},{"t":"2005-12-14 23:00","s":"8","v":3.413},{"t":"2005-12-15 04:00","s":"8","v":3.426},{"t":"2005-12-15 07:00","s":"8","v":3.401},{"t":"2005-12-15 15:00","s":"8","v":3.395},{"t":"2005-12-15 22:00","s":"8","v":3.395},{"t":"2005-12-16 05:00","s":"8","v":3.382},{"t":"2005-12-16 12:00","s":"8","v":3.376},{"t":"2005-12-16 16:00","s":"8","v":3.345},{"t":"2005-12-16 23:00","s":"8","v":3.333},{"t":"2005-12-17 07:00","s":"8","v":3.339},{"t":"2005-12-17 10:00","s":"8","v":3.308},{"t":"2005-12-17 17:00","s":"8","v":3.277},{"t":"2005-12-18 01:00","s":"8","v":3.240},{"t":"2005-12-18 04:00","s":"8","v":3.190},{"t":"2005-12-18 12:00","s":"8","v":3.153},{"t":"2005-12-18 15:00","s":"8","v":3.190},{"t":"2005-12-18 23:00","s":"8","v":3.215},{"t":"2005-12-19 02:00","s":"8","v":3.253},{"t":"2005-12-19 06:00","s":"8","v":3.228},{"t":"2005-12-19 10:00","s":"8","v":3.203},{"t":"2005-12-19 13:00","s":"8","v":3.091},{"t":"2005-12-19 17:00","s":"8","v":3.153},{"t":"2005-12-19 22:00","s":"8","v":3.203},{"t":"2005-12-20 04:00","s":"8","v":3.234},{"t":"2005-12-20 10:00","s":"8","v":3.203},{"t":"2005-12-20 15:00","s":"8","v":3.302},{"t":"2005-12-20 19:00","s":"8","v":3.376},{"t":"2005-12-20 22:00","s":"8","v":3.290},{"t":"2005-12-21 03:00","s":"8","v":3.258},{"t":"2005-12-21 08:00","s":"8","v":3.215},{"t":"2005-12-21 13:00","s":"8","v":3.265},{"t":"2005-12-21 20:00","s":"8","v":3.277},{"t":"2005-12-22 03:00","s":"8","v":3.253},{"t":"2005-12-22 11:00","s":"8","v":3.228},{"t":"2005-12-22 14:00","s":"8","v":3.166},{"t":"2005-12-22 18:00","s":"8","v":3.079},{"t":"2005-12-22 22:00","s":"8","v":3.153},{"t":"2005-12-23 05:00","s":"8","v":3.190},{"t":"2005-12-23 11:00","s":"8","v":3.166},{"t":"2005-12-23 16:00","s":"8","v":3.128},{"t":"2005-12-23 23:00","s":"8","v":3.141},{"t":"2005-12-24 06:00","s":"8","v":3.153},{"t":"2005-12-24 11:00","s":"8","v":3.116},{"t":"2005-12-24 17:00","s":"8","v":3.029},{"t":"2005-12-24 23:00","s":"8","v":3.104},{"t":"2005-12-25 04:00","s":"8","v":3.153},{"t":"2005-12-25 08:00","s":"8","v":3.197},{"t":"2005-12-25 14:00","s":"8","v":3.153},{"t":"2005-12-25 19:00","s":"8","v":3.073},{"t":"2005-12-26 00:00","s":"8","v":3.017},{"t":"2005-12-26 06:00","s":"8","v":2.961},{"t":"2005-12-26 13:00","s":"8","v":3.004},{"t":"2005-12-26 20:00","s":"8","v":2.967},{"t":"2005-12-27 02:00","s":"8","v":3.017},{"t":"2005-12-27 07:00","s":"8","v":2.936},{"t":"2005-12-27 11:00","s":"8","v":2.849},{"t":"2005-12-27 16:00","s":"8","v":2.992},{"t":"2005-12-27 20:00","s":"8","v":2.893},{"t":"2005-12-28 02:00","s":"8","v":3.029},{"t":"2005-12-28 07:00","s":"8","v":2.930},{"t":"2005-12-28 13:00","s":"8","v":2.837},{"t":"2005-12-28 18:00","s":"8","v":3.011},{"t":"2005-12-28 21:00","s":"8","v":3.085},{"t":"2005-12-29 03:00","s":"8","v":3.153},{"t":"2005-12-29 10:00","s":"8","v":3.166},{"t":"2005-12-29 21:00","s":"8","v":3.184},{"t":"2005-12-30 05:00","s":"8","v":3.209},{"t":"2005-12-30 10:00","s":"8","v":3.228},{"t":"2005-12-30 15:00","s":"8","v":3.253},{"t":"2005-12-30 21:00","s":"8","v":3.277},{"t":"2005-12-31 00:00","s":"8","v":3.282},{"t":"2005-12-31 02:00","s":"8","v":3.266}
]},
"mark": {"type": "line", "color": "black", "strokeJoin": "round", "strokeCap": "butt"},
"encoding": {
  "x": {"field": "t", "type": "temporal",
    "scale": {"type": "utc", "domain": [{"year": 2005, "month": 10, "date": 5, "utc": true}, {"year": 2006, "month": 1, "date": 3, "utc": true}]},
    "axis": {"title": "Дата измерений", "titleFont": "Liberation Sans", "titleFontSize": 22, "titleFontWeight": "normal", "titleColor": "black", "titlePadding": 10,
      "labelFont": "Liberation Sans", "labelFontSize": 21, "labelColor": "black", "labelPadding": 3, "labelFlush": false, "labelOverlap": false,
      "tickSize": 10, "tickColor": "black", "tickWidth": 1.5, "domainColor": "black", "domainWidth": 1.5, "grid": false,
      "values": [{"year": 2005, "month": 10, "date": 5, "utc": true}, {"year": 2005, "month": 10, "date": 15, "utc": true}, {"year": 2005, "month": 10, "date": 25, "utc": true}, {"year": 2005, "month": 11, "date": 4, "utc": true}, {"year": 2005, "month": 11, "date": 14, "utc": true}, {"year": 2005, "month": 11, "date": 24, "utc": true}, {"year": 2005, "month": 12, "date": 4, "utc": true}, {"year": 2005, "month": 12, "date": 14, "utc": true}, {"year": 2005, "month": 12, "date": 24, "utc": true}, {"year": 2006, "month": 1, "date": 3, "utc": true}],
      "labelExpr": "datum.index == 0 ? '5.10.05' : utcFormat(datum.value, '%d.%m.%y')"}},
  "y": {"field": "v", "type": "quantitative",
    "scale": {"domain": [2.8, 4.0], "zero": false, "nice": false},
    "axis": {"title": "T", "titleFontStyle": "italic", "titleFont": "Liberation Sans", "titleFontSize": 20, "titleFontWeight": "normal", "titleColor": "black", "titleAngle": 0, "titleAlign": "left", "titleBaseline": "alphabetic", "titleX": -18, "titleY": -19,
      "values": [2.8, 3.0, 3.2, 3.4, 3.6, 3.8, 4.0], "format": ".1f",
      "labelFont": "Liberation Sans", "labelFontSize": 20, "labelColor": "black", "labelPadding": 5,
      "tickSize": 10, "tickColor": "black", "tickWidth": 1.5, "domainColor": "black", "domainWidth": 1.5, "grid": false}},
  "strokeDash": {"field": "s", "type": "ordinal",
    "scale": {"type": "ordinal", "domain": ["1", "2", "3", "4", "5", "6", "8"], "range": [[14, 7], [1.5, 2], [9, 5], [9, 4, 2, 4], [9, 4, 2, 3, 2, 4], [1, 0], [1, 0]]},
    "legend": {"title": null}},
  "strokeWidth": {"field": "s", "type": "ordinal",
    "scale": {"type": "ordinal", "domain": ["1", "2", "3", "4", "5", "6", "8"], "range": [1.7, 1.7, 1.8, 1.8, 1.7, 1, 3.8]},
    "legend": {"title": null}}
}
}
